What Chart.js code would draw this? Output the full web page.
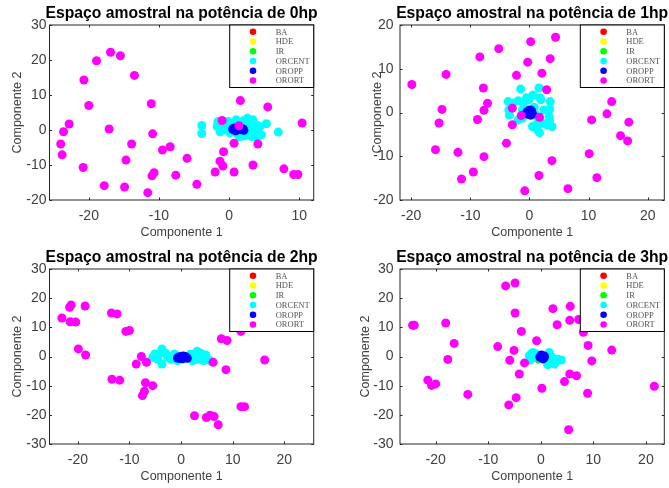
<!DOCTYPE html>
<html>
<head>
<meta charset="utf-8">
<script src="https://cdn.jsdelivr.net/npm/chart.js@4/dist/chart.umd.min.js"></script>
<style>
  html, body { margin: 0; padding: 0; background: #fff; overflow: hidden; }
  body { width: 669px; height: 488px; position: relative; }
  canvas { position: absolute; }
</style>
</head>
<body>
<canvas id="c0" width="335" height="244" style="left:0;top:0"></canvas>
<canvas id="c1" width="334" height="244" style="left:335px;top:0"></canvas>
<canvas id="c2" width="335" height="244" style="left:0;top:244px"></canvas>
<canvas id="c3" width="334" height="244" style="left:335px;top:244px"></canvas>
<script>
const classNames = ["BA", "HDE", "IR", "ORCENT", "OROPP", "ORORT"];
const classColors = ["#ff0000", "#ffff00", "#00ff00", "#00ffff", "#0000ff", "#ff00ff"];
const titles = [
  "Espaço amostral na potência de 0hp",
  "Espaço amostral na potência de 1hp",
  "Espaço amostral na potência de 2hp",
  "Espaço amostral na potência de 3hp"
];

// axis limits and tick values per panel
const xLimits = [[-25.6, 12.05], [-21.9, 22.8], [-25.5, 25.7], [-26.8, 23.5]];
const yLimits = [[-20, 30], [-20, 20], [-30, 30], [-30, 30]];
const xTicks0 = [-20, -10, 0, 10];
const xTicks = [-20, -10, 0, 10, 20];
const yTicks0 = [-20, -10, 0, 10, 20, 30];
const yTicks1 = [-20, -10, 0, 10, 20];
const yTicks23 = [-30, -20, -10, 0, 10, 20, 30];

// ---- 0hp ----
const p0_BA = [[1.2, 0.4], [1.5, 0.3]];
const p0_HDE = [[1.3, 0.5], [1.0, 0.3]];
const p0_IR = [[1.4, 0.2], [1.1, 0.5]];
const p0_ORCENT = [[-3.9, 1.3], [-3.9, -1.0], [-1.7, 1.0], [-1.6, 2.4], [2.6, 3.4], [5.3, 1.8], [7.0, -0.6],
  [4.6, -1.4], [3.9, -2.1], [-0.1, 2.4], [0.6, 2.1], [1.5, 1.7], [3.2, 1.9], [3.9, 1.4], [3.4, 0.0],
  [2.5, -1.4], [2.0, -1.7], [1.1, -1.0], [-0.4, 0.0], [-0.9, 1.1], [0.1, -0.8], [2.9, -0.5], [4.1, 0.0],
  [3.6, -1.0], [2.7, 0.8], [1.0, 2.9], [2.1, 2.7], [3.4, 2.9], [4.4, 1.0], [-1.3, -0.5], [1.5, -1.9],
  [3.2, -1.9], [0.3, 1.4]];
const p0_OROPP = [[0.5, 0.2], [0.8, 0.5], [1.1, 0.0], [1.4, 0.4], [1.7, 0.1], [2.0, 0.3], [1.2, 0.6],
  [0.9, -0.2], [1.6, 0.6], [2.1, -0.1], [1.3, 0.2], [0.6, 0.5]];
const p0_ORORT = [[-16.9, 22.2], [-15.5, 21.2], [-18.9, 19.8], [-13.5, 15.6], [-20.7, 14.3], [-11.1, 7.5],
  [-20.0, 7.0], [-22.8, 1.7], [-23.6, -0.5], [-17.1, 0.3], [-10.9, -1.1], [-24.0, -4.0], [-23.8, -7.1],
  [-13.9, -4.0], [-8.4, -4.8], [-9.5, -5.7], [-14.7, -8.6], [-6.0, -8.1], [-20.8, -10.7], [-10.7, -12.2],
  [-11.0, -13.1], [-7.6, -12.9], [-17.8, -15.9], [-14.9, -16.3], [-11.6, -17.9], [-4.6, -15.5],
  [-2.0, -12.0], [-0.9, -10.3], [-1.3, -8.9], [-0.8, -6.2], [0.7, -12.0], [0.7, -3.8], [-1.0, 2.7],
  [1.6, 8.4], [5.5, 6.6], [10.4, 2.0], [4.1, -4.0], [3.4, -10.0], [7.8, -11.1], [9.2, -12.7],
  [9.8, -12.7], [1.4, 1.2]];

// ---- 1hp ----
const p1_BA = [[0.0, 0.0], [0.2, 0.1]];
const p1_HDE = [[0.1, -0.1], [-0.1, 0.2]];
const p1_IR = [[-0.9, 0.5], [0.9, -0.6], [0.6, 0.7]];
const p1_ORCENT = [[-1.5, 5.4], [1.6, 5.6], [1.8, 3.4], [0.6, 4.0], [-0.5, 3.4], [-3.6, 2.5], [-1.9, 2.7],
  [-2.8, 2.2], [3.5, 2.5], [3.4, 0.8], [-3.4, -0.6], [1.2, -2.7], [3.4, -1.8], [3.8, -3.2], [1.7, -4.6],
  [1.4, -4.0], [0.5, -3.2], [-1.9, -1.7], [0.8, 1.2], [3.0, -2.9], [-3.5, 0.6], [-1.2, 0.6], [1.9, 2.9],
  [2.4, 0.6], [3.3, -0.9], [-0.1, 2.9], [-1.0, 2.1], [1.0, -0.5], [2.1, -2.4], [-1.2, -1.3]];
const p1_OROPP = [[-0.4, 0.2], [0.3, 0.5], [0.5, -0.3], [-0.2, -0.4], [0.1, 0.0], [0.4, 0.1], [-0.5, -0.1],
  [0.2, -0.6], [0.0, 0.6]];
const p1_ORORT = [[-19.9, 6.4], [-14.1, 8.7], [-8.4, 12.7], [-5.2, 14.6], [0.2, 16.2], [4.4, 17.2],
  [-0.3, 11.5], [3.5, 12.3], [-2.2, 8.5], [2.1, 9.0], [2.9, 5.2], [-7.8, 5.6], [-7.1, 2.1], [-7.7, 0.5],
  [-14.8, 0.7], [-8.8, -1.6], [-15.3, -2.4], [-15.9, -8.5], [-12.1, -9.1], [-7.7, -10.1], [-3.9, -7.0],
  [-2.9, 1.0], [-2.9, -2.8], [-1.4, -0.7], [1.7, -1.1], [-9.5, -13.6], [-11.5, -15.2], [-0.8, -17.9],
  [1.6, -14.4], [3.8, -11.0], [6.5, -17.4], [10.1, -9.4], [11.4, -14.9], [10.5, -1.7], [13.1, -0.3],
  [13.9, 2.5], [15.4, -5.3], [16.6, -6.5], [16.8, -2.2]];

// ---- 2hp ----
const p2_BA = [[0.2, -0.3], [0.5, -0.2]];
const p2_HDE = [[0.3, -0.4], [0.0, -0.2]];
const p2_IR = [[0.4, -0.3], [0.1, -0.5]];
const p2_ORCENT = [[-5.1, 0.9], [-3.7, 2.6], [-3.7, -2.6], [-2.6, -0.3], [-4.6, -0.9], [-1.3, 0.9],
  [2.5, 0.9], [3.1, -0.9], [4.1, 0.3], [4.4, -1.4], [5.6, -1.4], [1.2, -0.3], [0.3, -0.9], [-0.7, -1.4],
  [-3.0, 1.1], [-2.0, -0.9], [2.2, -1.4], [3.8, 1.1], [3.1, 1.8], [-4.2, 0.9], [-5.5, -0.3], [1.8, 0.8],
  [-1.5, -0.8], [4.8, 0.5]];
const p2_OROPP = [[-0.5, -0.2], [0.0, 0.0], [0.5, -0.5], [1.0, -0.3], [0.2, -0.7], [-0.3, -0.6], [0.8, 0.0],
  [1.2, -0.6], [-0.7, -0.5], [0.4, 0.2]];
const p2_ORORT = [[-23.1, 13.2], [-21.6, 16.9], [-21.3, 17.7], [-21.5, 11.9], [-20.4, 11.8], [-18.6, 17.3],
  [-19.9, 2.6], [-18.5, 0.5], [-13.5, 14.9], [-12.4, 14.6], [-10.7, 8.6], [-10.0, 8.9], [-13.4, -7.8],
  [-11.9, -8.1], [-7.7, 0.0], [-8.7, -2.6], [-6.7, -2.0], [-6.9, -9.0], [-7.1, -11.9], [-7.5, -13.4],
  [-5.5, -10.0], [7.8, 6.1], [8.9, 5.5], [11.6, 8.6], [6.2, -2.0], [8.7, -4.5], [16.2, -1.2], [2.6, -20.3],
  [4.9, -20.9], [5.6, -20.1], [6.4, -20.6], [7.2, -23.4], [11.6, -17.2], [12.3, -17.2]];

// ---- 3hp ----
const p3_BA = [[0.2, 0.0], [0.4, 0.1]];
const p3_HDE = [[0.3, -0.2], [0.1, 0.2]];
const p3_IR = [[-0.4, -0.9], [-0.3, -0.7]];
const p3_ORCENT = [[-2.2, 0.3], [-1.5, 1.4], [-0.9, 0.9], [1.6, 1.4], [2.3, -0.9], [2.9, -1.4], [3.9, -1.2],
  [1.3, -2.8], [2.6, -2.6], [-2.0, -1.2], [0.4, -0.9], [2.0, 0.0], [-1.4, -0.3], [3.2, -0.9], [1.0, -1.4],
  [-1.8, 1.0], [1.9, -2.0]];
const p3_OROPP = [[0.0, 0.0], [0.5, 0.3], [0.3, -0.4], [0.7, 0.0], [0.1, 0.5], [0.4, -0.8], [-0.2, -0.2],
  [0.6, -0.5]];
const p3_ORORT = [[-24.4, 10.7], [-24.1, 10.7], [-18.1, 11.5], [-16.5, 4.5], [-17.7, -1.0], [-21.5, -8.1],
  [-20.8, -9.9], [-20.0, -9.4], [-13.9, -13.0], [-8.2, 3.4], [-6.7, 24.2], [-4.9, 25.2], [-4.9, 14.9],
  [-3.7, 8.6], [-5.1, 2.1], [-5.9, -1.3], [-3.1, -2.2], [-4.1, -6.0], [-0.8, 5.4], [-4.7, -14.1],
  [-6.1, -16.6], [0.2, -10.9], [2.3, 16.4], [3.1, 10.9], [5.6, 17.2], [5.5, 12.4], [7.2, 12.7], [8.1, 8.3],
  [9.0, 3.8], [5.5, -6.0], [6.8, -6.6], [4.5, -8.6], [8.9, -12.6], [9.7, -1.5], [13.5, 2.2], [5.3, -25.1],
  [21.6, -10.2]];

const panelSeries = [
  [p0_BA, p0_HDE, p0_IR, p0_ORCENT, p0_OROPP, p0_ORORT],
  [p1_BA, p1_HDE, p1_IR, p1_ORCENT, p1_OROPP, p1_ORORT],
  [p2_BA, p2_HDE, p2_IR, p2_ORCENT, p2_OROPP, p2_ORORT],
  [p3_BA, p3_HDE, p3_IR, p3_ORCENT, p3_OROPP, p3_ORORT]
];
const panelXTicks = [xTicks0, xTicks, xTicks, xTicks];
const panelYTicks = [yTicks0, yTicks1, yTicks23, yTicks23];

// plot box inside each canvas (MATLAB axes position)
const leftBox = { left: 49.5, right: 313.7, yTickPad: 3, yTitlePad: 10 };
const rightBox = { left: 65, right: 329.3, yTickPad: 6.5, yTitlePad: 35 };
const boxes = [leftBox, rightBox, leftBox, { ...rightBox, yTitlePad: 23 }];

const textGray = "#404040";

// draws the axes frame, inward ticks, the legend box and the title
const matlabLook = {
  id: "matlabLook",
  afterDatasetsDraw(chart) {
    const { ctx, chartArea: a, scales } = chart;
    ctx.save();
    ctx.strokeStyle = "#262626";
    ctx.lineWidth = 1;
    ctx.strokeRect(a.left, a.top, a.right - a.left, a.bottom - a.top);
    ctx.beginPath();
    scales.x.ticks.forEach(t => {
      const px = Math.round(scales.x.getPixelForValue(t.value)) + 0.5;
      ctx.moveTo(px, a.bottom); ctx.lineTo(px, a.bottom - 2.5);
      ctx.moveTo(px, a.top); ctx.lineTo(px, a.top + 2.5);
    });
    scales.y.ticks.forEach(t => {
      const py = Math.round(scales.y.getPixelForValue(t.value)) + 0.5;
      ctx.moveTo(a.left, py); ctx.lineTo(a.left + 2.5, py);
      ctx.moveTo(a.right, py); ctx.lineTo(a.right - 2.5, py);
    });
    ctx.stroke();

    // legend
    const lw = 84, lh = 62.5;
    const lx = a.right - lw, ly = a.top;
    ctx.fillStyle = "#fff";
    ctx.fillRect(lx, ly, lw, lh);
    ctx.strokeStyle = "#000";
    ctx.strokeRect(lx, ly, lw, lh);
    ctx.font = '8.5px "Liberation Serif", "DejaVu Serif", serif';
    ctx.textBaseline = "middle";
    ctx.textAlign = "left";
    chart.data.datasets.forEach((ds, i) => {
      const cy = ly + 6.8 + i * 9.75;
      ctx.beginPath();
      ctx.arc(lx + 23.3, cy, 3.3, 0, Math.PI * 2);
      ctx.fillStyle = ds.backgroundColor;
      ctx.fill();
      ctx.fillStyle = "#555";
      ctx.fillText(ds.label, lx + 46, cy + 0.5);
    });

    // title
    ctx.fillStyle = "#000";
    ctx.font = 'bold 15.7px "Liberation Sans", Arial, sans-serif';
    ctx.textAlign = "center";
    ctx.textBaseline = "alphabetic";
    ctx.fillText(chart.options.plugins.matlabLook.text, (a.left + a.right) / 2, 17.5);
    ctx.restore();
  }
};

const makePanel = (idx) => {
  const canvas = document.getElementById("c" + idx);
  const box = boxes[idx];
  const datasets = panelSeries[idx].map((pts, i) => ({
    label: classNames[i],
    data: pts,
    backgroundColor: classColors[i],
    borderWidth: 0,
    pointRadius: 4.5,
    order: classNames.length - i
  }));
  return new Chart(canvas, {
    type: "scatter",
    data: { datasets },
    plugins: [matlabLook],
    options: {
      responsive: false,
      animation: false,
      events: [],
      layout: { padding: { top: 25, right: canvas.width - box.right, left: 0, bottom: 0 } },
      plugins: {
        legend: { display: false },
        tooltip: { enabled: false },
        matlabLook: { text: titles[idx] }
      },
      scales: {
        x: {
          type: "linear",
          min: xLimits[idx][0],
          max: xLimits[idx][1],
          grid: { display: false, drawTicks: false },
          border: { display: false },
          afterBuildTicks: s => { s.ticks = panelXTicks[idx].map(v => ({ value: v })); },
          afterFit: s => { s.height = 44; s.paddingLeft = 0; s.paddingRight = 0; },
          ticks: {
            color: textGray,
            font: { family: '"Liberation Sans", Arial, sans-serif', size: 14 },
            padding: 8,
            maxRotation: 0,
            autoSkip: false
          },
          title: {
            display: true,
            text: "Componente 1",
            color: textGray,
            font: { family: '"Liberation Sans", Arial, sans-serif', size: 12.5 },
            padding: { top: 0, bottom: 4 }
          }
        },
        y: {
          type: "linear",
          min: yLimits[idx][0],
          max: yLimits[idx][1],
          grid: { display: false, drawTicks: false },
          border: { display: false },
          afterBuildTicks: s => { s.ticks = panelYTicks[idx].map(v => ({ value: v })); },
          afterFit: s => { s.width = box.left; s.paddingTop = 0; s.paddingBottom = 0; },
          ticks: {
            color: textGray,
            font: { family: '"Liberation Sans", Arial, sans-serif', size: 14 },
            padding: box.yTickPad,
            autoSkip: false
          },
          title: {
            display: true,
            text: "Componente 2",
            color: textGray,
            font: { family: '"Liberation Sans", Arial, sans-serif', size: 12.5 },
            padding: { top: box.yTitlePad, bottom: 0 }
          }
        }
      }
    }
  });
};

[0, 1, 2, 3].forEach(makePanel);
</script>
</body>
</html>
